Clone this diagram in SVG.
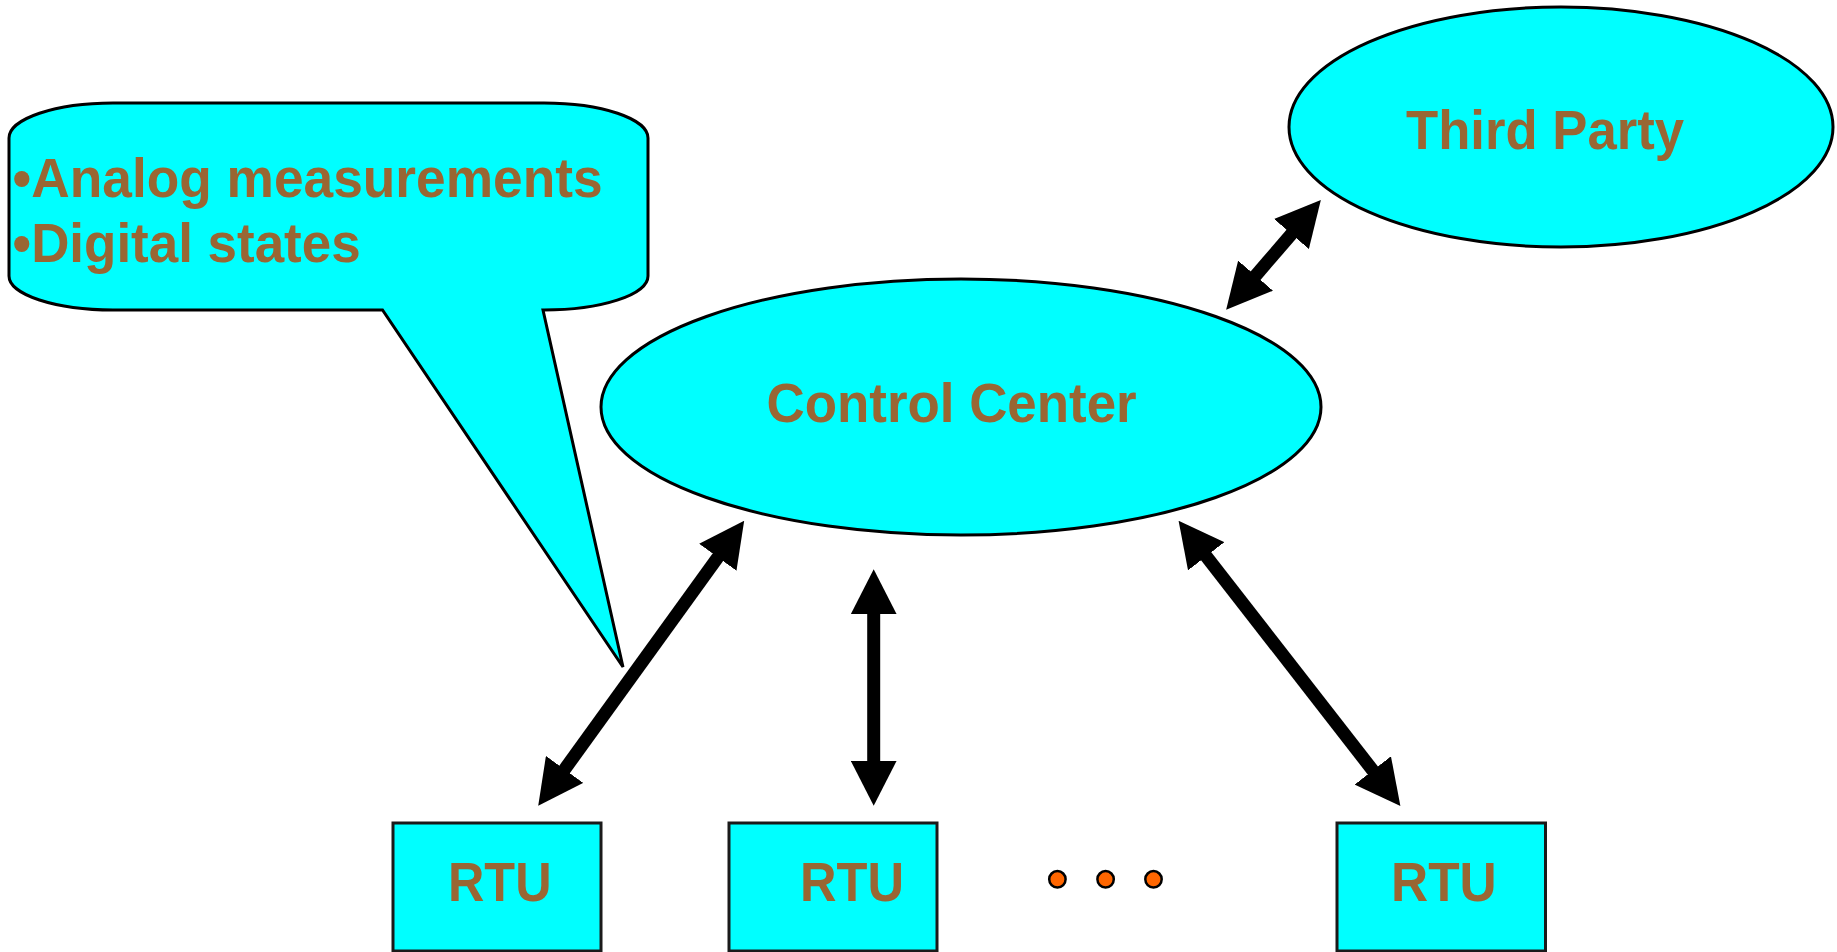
<svg xmlns="http://www.w3.org/2000/svg" width="1837" height="952" viewBox="0 0 1837 952">
  <style>
    .shape { fill: #00FFFF; stroke: #000000; stroke-width: 3; }
    .box { fill: #00FFFF; stroke: #1a1a1a; stroke-width: 3; }
    .label { font-family: "Liberation Sans", Arial, sans-serif; font-weight: bold; font-size: 56px; fill: #996633; }
    .conn { stroke: #000000; stroke-width: 13; fill: none; marker-start: url(#ah); marker-end: url(#ah); }
    .dot { fill: #FF6600; stroke: #000000; stroke-width: 2.5; }
  </style>
  <defs>
    <marker id="ah" viewBox="0 0 45 46" refX="1" refY="23" markerWidth="45" markerHeight="46" markerUnits="userSpaceOnUse" orient="auto-start-reverse">
      <path d="M0,0 L45,23 L0,46 Z" fill="#000000"/>
    </marker>
  </defs>
  <rect x="0" y="0" width="1837" height="952" fill="#FFFFFF"/>

  <g id="callout">
    <path class="shape" stroke-width="2.5" d="M113,103 L544,103 A104,35 0 0 1 648,138 L648,276 A104,34 0 0 1 543,310 L623,667 L382.5,310 L113,310 A104,34 0 0 1 9,276 L9,138 A104,35 0 0 1 113,103 Z"/>
    <text class="label" x="12.6" y="197.3" textLength="590" lengthAdjust="spacingAndGlyphs">•Analog measurements</text>
    <text class="label" x="12.6" y="261.7" textLength="348" lengthAdjust="spacingAndGlyphs">•Digital states</text>
  </g>

  <g id="third-party">
    <ellipse class="shape" cx="1561" cy="127" rx="272" ry="120"/>
    <text class="label" x="1406" y="149.3" textLength="278" lengthAdjust="spacingAndGlyphs">Third Party</text>
  </g>

  <g id="control-center">
    <ellipse class="shape" cx="961" cy="407" rx="360" ry="128"/>
    <text class="label" x="766.6" y="421.7" textLength="370" lengthAdjust="spacingAndGlyphs">Control Center</text>
  </g>

  <g id="rtu-1">
    <rect class="box" x="393" y="823" width="208" height="128"/>
    <text class="label" x="448" y="901" textLength="103.5" lengthAdjust="spacingAndGlyphs">RTU</text>
  </g>

  <g id="rtu-2">
    <rect class="box" x="729" y="823" width="208" height="128"/>
    <text class="label" x="800" y="901" textLength="104" lengthAdjust="spacingAndGlyphs">RTU</text>
  </g>

  <g id="ellipsis">
    <circle class="dot" cx="1057.4" cy="879.3" r="8.2"/>
    <circle class="dot" cx="1105.6" cy="879.3" r="8.2"/>
    <circle class="dot" cx="1153.5" cy="879.3" r="8.2"/>
  </g>

  <g id="rtu-3">
    <rect class="box" x="1337" y="823" width="208.5" height="128"/>
    <text class="label" x="1391" y="901" textLength="105.7" lengthAdjust="spacingAndGlyphs">RTU</text>
  </g>

  <g id="connectors">
    <line class="conn" x1="718.4" y1="556.5" x2="564" y2="770.2"/>
    <line class="conn" x1="873.7" y1="613.3" x2="873.7" y2="761.7"/>
    <line class="conn" x1="1205.6" y1="555.5" x2="1373.4" y2="771.2"/>
    <line class="conn" x1="1254.9" y1="276.4" x2="1292.1" y2="233.3"/>
  </g>
</svg>
